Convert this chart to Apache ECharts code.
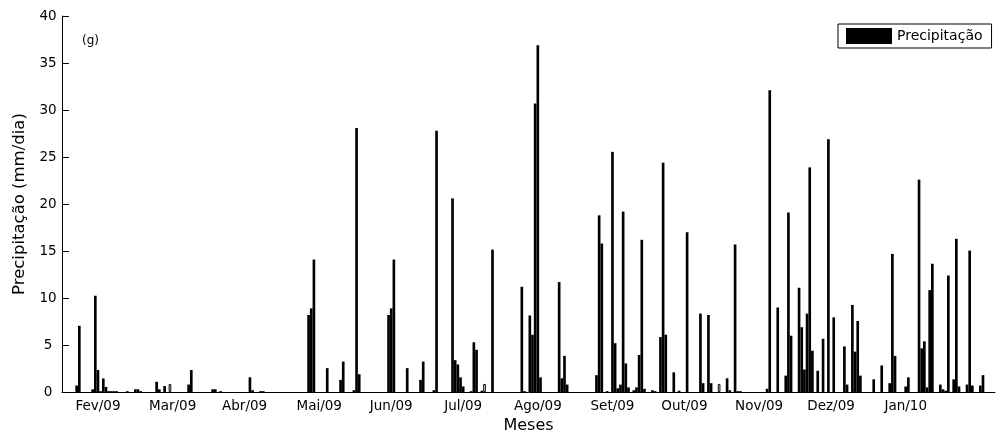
<!DOCTYPE html>
<html><head><meta charset="utf-8">
<script src="https://cdn.jsdelivr.net/npm/echarts@6/dist/echarts.min.js"></script>
<style>html,body{margin:0;padding:0;background:#fff}#c{width:996px;height:439px}</style>
</head><body><div id="c"></div>
<script>
// Daily precipitation (mm/dia), one value per day slot
const precip = [
  0,0,0,0,0,0.7,7.05,0,0,0,
  0,0.3,10.25,2.35,0.1,1.45,0.55,0.1,0.1,0.1,
  0.1,0,0,0,0.1,0,0,0.3,0.3,0.1,
  0,0,0,0,0,1.1,0.3,0,0.65,0,
  0,0,0,0,0,0,0,0.8,2.35,0,
  0,0,0,0,0,0,0.3,0.3,0,0.1,
  0,0,0,0,0,0,0,0,0,0,
  1.57,0.2,0,0,0.1,0.1,0,0,0,0,
  0,0,0,0,0,0,0,0,0,0,
  0,0,8.2,8.9,14.1,0,0,0,0,2.55,
  0,0,0,0,1.3,3.25,0,0,0,0.2,
  28.1,1.9,0,0,0,0,0,0,0,0,
  0,0,8.2,8.9,14.1,0,0,0,0,2.55,
  0,0,0,0,1.3,3.25,0,0,0,0.2,
  27.8,0,0,0,0,0,20.6,3.4,2.94,1.57,
  0.6,0,0,0.1,5.3,4.5,0,0.15,0,0,
  0,15.15,0,0,0,0,0,0,0,0,
  0,0,11.2,0.1,0,8.15,6.1,30.7,36.9,1.57,
  0,0,0,0,0,0,11.7,1.47,3.85,0.8,
  0,0,0,0,0,0,0,0,0,0,
  1.8,18.8,15.8,0,0.1,0,25.55,5.2,0.4,0.8,
  19.2,3.05,0.5,0,0.2,0.5,3.95,16.2,0.35,0,
  0,0.2,0.1,0,5.85,24.4,6.1,0,0,2.1,
  0,0.15,0,0,17.0,0,0,0,0,8.35,
  0.95,0,8.2,0.95,0,0,0,0,0,1.47,
  0.2,0,15.7,0.1,0.1,0,0,0,0,0,
  0,0,0,0,0.35,32.1,0,0,9.0,0,
  0,1.75,19.1,6.0,0,0,11.1,6.9,2.4,8.35,
  23.9,4.4,0,2.27,0,5.67,0,26.9,0,7.95,
  0,0,0,4.86,0.8,0,9.27,4.3,7.56,1.75,
  0,0,0,0,1.36,0,0,2.83,0,0,
  0.95,14.7,3.85,0,0,0,0.6,1.57,0,0,
  0,22.6,4.65,5.4,0.5,10.85,13.65,0,0,0.8,
  0.3,0.15,12.4,0,1.36,16.3,0.6,0,0,0.8,
  15.05,0.7,0,0,0.7,1.8,0,0,0,0
];
// Small unfilled (outline) bars
const hollowSlots = [40, 158, 246];
const hollowValues = [0.85, 0.87, 0.87];
// Month tick labels and the day slot they sit on
const monthLabels = ['Fev/09','Mar/09','Abr/09','Mai/09','Jun/09','Jul/09','Ago/09','Set/09','Out/09','Nov/09','Dez/09','Jan/10'];
const monthSlots = [13, 41, 68, 96, 123, 150, 178, 206, 233, 261, 288, 316];

const days = precip.map((_, i) => String(i + 1));
const chart = echarts.init(document.getElementById('c'), null, {renderer: 'canvas'});
chart.setOption({
  animation: false,
  backgroundColor: '#fff',
  textStyle: {fontFamily: 'DejaVu Sans'},
  grid: {left: 62, right: 1, top: 16, bottom: 42, containLabel: false},
  legend: {
    data: ['Precipitação'], left: 838, top: 24, icon: 'rect',
    itemWidth: 46, itemHeight: 16, padding: [4, 9, 4, 8],
    borderColor: '#000', borderWidth: 1, backgroundColor: '#fff',
    textStyle: {fontSize: 14, color: '#000', fontFamily: 'DejaVu Sans'}
  },
  xAxis: {
    type: 'category', data: days, boundaryGap: true,
    axisLine: {lineStyle: {color: '#000', width: 1}},
    axisTick: {show: false},
    axisLabel: {
      interval: (i) => monthSlots.includes(i),
      formatter: (v, i) => { const k = monthSlots.indexOf(i); return k >= 0 ? monthLabels[k] : ''; },
      color: '#000', fontSize: 13.5, margin: 7, fontFamily: 'DejaVu Sans'
    },
    name: 'Meses', nameLocation: 'middle', nameGap: 24,
    nameTextStyle: {fontSize: 16, color: '#000', fontFamily: 'DejaVu Sans'}
  },
  yAxis: {
    type: 'value', min: 0, max: 40, interval: 5,
    splitLine: {show: false},
    axisLine: {show: true, lineStyle: {color: '#000'}},
    axisTick: {show: true, inside: true, length: 7, lineStyle: {color: '#000'}},
    axisLabel: {color: '#000', fontSize: 13.5, align: 'center', margin: 14, fontFamily: 'DejaVu Sans'},
    name: 'Precipitação (mm/dia)', nameLocation: 'middle', nameGap: 34,
    nameTextStyle: {fontSize: 16.5, color: '#000', fontFamily: 'DejaVu Sans'}
  },
  graphic: [{type: 'text', left: 82, top: 35, style: {text: '(g)', fontSize: 12, fill: '#000', fontFamily: 'DejaVu Sans'}}],
  series: [
    {name: 'Precipitação', type: 'bar', data: precip, barCategoryGap: '0%', barGap: '-100%', itemStyle: {color: '#000'}},
    {name: 'contorno', type: 'bar', data: hollowSlots.map((s, k) => [s, hollowValues[k]]), barCategoryGap: '0%', barGap: '-100%',
     itemStyle: {color: '#fff', borderColor: '#000', borderWidth: 1}}
  ]
});
</script>
</body></html>
